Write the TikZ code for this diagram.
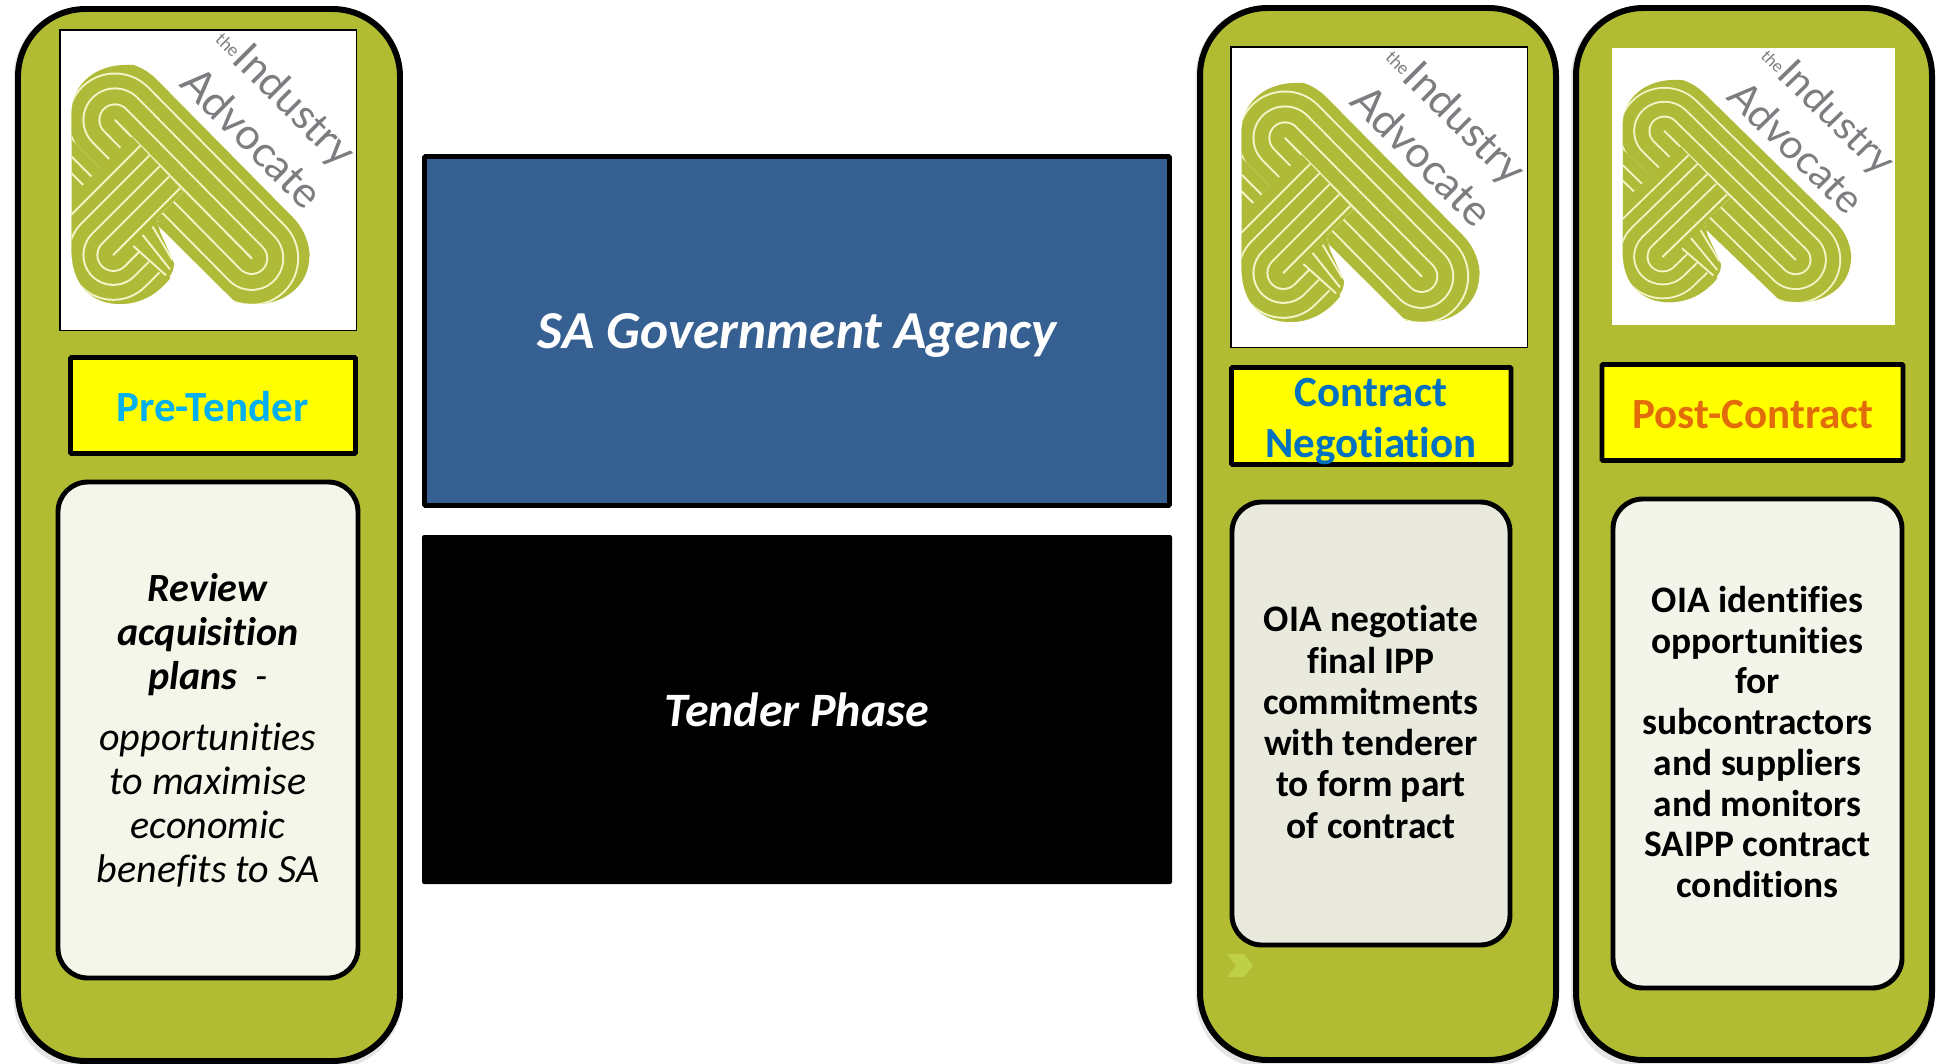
\documentclass[tikz,border=0pt]{standalone}
\usepackage{fontspec}
\setmainfont{Carlito}[Ligatures=NoCommon]
\newfontfamily\logofont{Lato}
\definecolor{olive}{HTML}{B2BC32}
\definecolor{logog}{HTML}{AFBB38}
\definecolor{logop}{HTML}{F3F5C8}
\definecolor{chev}{HTML}{BDD048}
\definecolor{creamA}{HTML}{F5F6EA}
\definecolor{creamB}{HTML}{E9E9DE}
\definecolor{creamC}{HTML}{F4F5EA}
\definecolor{agency}{HTML}{376092}
\definecolor{ctA}{HTML}{00B0F0}
\definecolor{ctB}{HTML}{0070C0}
\definecolor{ctC}{HTML}{E36C0A}
\definecolor{logotext}{HTML}{7C7D80}
\definecolor{pureyellow}{HTML}{FFFF00}
\tikzset{
  panel/.style={draw=black,line width=3.4pt,fill=olive,rounded corners=38.5pt},
  panelshade/.style={draw=black!10,line width=3.4pt,rounded corners=38.5pt},
  labelbox/.style={draw=black,line width=2.8pt,fill=pureyellow,rounded corners=0.6pt},
  textbox/.style={draw=black,line width=2.8pt,rounded corners=17pt},
  frame/.style={draw=black,line width=0.8pt,fill=white},
  bigbox/.style={line width=2.8pt,rounded corners=0.6pt},
  labeltext/.style={font=\fontsize{24.5}{29.4}\selectfont\bfseries,align=center,inner sep=0pt},
  bodytext/.style={align=center,inner sep=0pt,text=black},
  heading/.style={text=white,inner sep=0pt},
  logoword/.style={text=logotext,inner sep=0pt,rotate=-45,anchor=center},
  stripeline/.style={draw=logop,line width=1.1pt,line cap=butt},
}
\newcommand{\zband}[2]{% two ends of a concentric ribbon
  \foreach \r/\c in {#2}{
    \draw[line cap=round,draw=\c,line width=2*\r*0.18897pt] #1;
  }}
\newcommand{\logomark}{%
  \begin{scope}[x=0.0066667cm,y=-0.0066667cm]
    % part of the ribbon to the left of the crossing
    \fill[logog] (215,330) -- (215,590) -- (420,385) -- (300,300) -- cycle;
    \draw[stripeline] (215,400) -- (310,495);
    \draw[stripeline] (215,470) -- (275,530);
    \draw[stripeline] (215,520) -- (250,555);
    % main ribbon
    \begin{scope}
      \clip (215,340) .. controls (215,250) and (290,195) .. (375,195) -- (960,195) -- (960,760)
        -- (928,770) .. controls (928,850) and (860,912) .. (770,912) -- (708,908) -- (215,419) -- cycle;
      \zband{(345,360) -- (755,775)}{175/logog,143/logop,137/logog,98/logop,92/logog,50/logop,44/logog,3/logop}
    \end{scope}
    % crossing ribbon
    \begin{scope}
      \clip (215,590) -- (395,410) -- (550,575) -- (470,655) -- (510,835)
        .. controls (470,885) and (420,912) .. (360,912)
        .. controls (280,912) and (215,860) .. (215,750) -- cycle;
      \fill[logog] (200,400) rectangle (560,920);
      \zband{(340,765) -- (640,465)}{178/logop,172/logog,138/logop,132/logog,93/logop,87/logog,51/logop,45/logog,3/logop}
    \end{scope}
    % end of the strand at the foot
    \fill[logog] (400,738) -- (470,672) .. controls (490,720) and (510,760) .. (522,790)
      .. controls (522,810) and (515,825) .. (500,838) -- cycle;
    \draw[stripeline] (400,738) -- (498,826);
    \draw[stripeline] (428,705) -- (510,808);
    \draw[stripeline] (458,680) -- (517,780);
    \node[logoword,font=\logofont\fontsize{24}{25}\selectfont] (ind) at (880,320) {Industry};
    \node[logoword,font=\logofont\fontsize{24.5}{25}\selectfont] (adv) at (758,412) {Advocate};
    \node[logoword,font=\logofont\fontsize{10}{11}\selectfont] (the) at (684,135) {the};
  \end{scope}}
\begin{document}
\begin{tikzpicture}[x=0.02cm,y=-0.02cm]
\useasboundingbox (0,0) rectangle (1941,1064);
\fill[white] (0,0) rectangle (1941,1064);
% panel shadows
\draw[panelshade] (16.5,10) rectangle (399,1066);
\draw[panelshade] (1198.5,9) rectangle (1554,1065);
\draw[panelshade] (1574,9) rectangle (1931,1065);
% panels
\draw[panel] (18,9) rectangle (400,1061);
\draw[panel] (1200,8) rectangle (1556,1060);
\draw[panel] (1576,8) rectangle (1932,1060);
% logo frames
\draw[frame] (60,30) rectangle (356.5,330.5);
\draw[frame] (1231,47) rectangle (1527.5,347.5);
\fill[white] (1612,48) rectangle (1895,325);
\begin{scope}\logomark\end{scope}
\begin{scope}[transform canvas={shift={(1170,18)}}]\logomark\end{scope}
\begin{scope}[transform canvas={shift={(1554,19.5)},xscale=.96,yscale=.93}]\logomark\end{scope}
% yellow label boxes
\draw[labelbox] (70.5,357.5) rectangle (355.5,453.5);
\draw[labelbox] (1231.5,367.5) rectangle (1511,464.5);
\draw[labelbox] (1602,364.5) rectangle (1903,460.5);
\node[labeltext,text=ctA] (lpre) at (212.5,407) {Pre-Tender};
\node[labeltext,text=ctB] (lcon) at (1371,421.5) {Contract\\Negotiation};
\node[labeltext,text=ctC] (lpost) at (1753,415) {Post-Contract};
% text boxes
\draw[textbox,fill=creamA] (58,482) rectangle (358,978);
\draw[textbox,fill=creamB] (1232,502) rectangle (1510,945);
\draw[textbox,fill=creamC] (1613,499) rectangle (1902,988);
\node[bodytext,font=\fontsize{22.8}{25}\selectfont] (trev) at (208,730.5)
  {\textbf{\textit{Review}}\\\textbf{\textit{acquisition}}\\\textbf{\textit{plans}}\textit{\ \ -}\\[10pt]
   \textit{opportunities}\\\textit{to maximise}\\\textit{economic}\\\textit{benefits to SA}};
\node[bodytext,font=\fontsize{21.3}{23.5}\selectfont\bfseries] (tcon) at (1371,722)
  {OIA negotiate\\final IPP\\commitments\\with tenderer\\to form part\\of contract};
\node[bodytext,font=\fontsize{21.3}{23.2}\selectfont\bfseries] (tpost) at (1757.5,742)
  {OIA identifies\\opportunities\\for\\subcontractors\\and suppliers\\and monitors\\SAIPP contract\\conditions};
% centre boxes
\draw[bigbox,draw=black,fill=agency] (424.5,156.5) rectangle (1169.5,505.5);
\fill[black,rounded corners=1.2pt] (422,535) rectangle (1172,884);
\node[heading,font=\fontsize{30.4}{36}\selectfont\bfseries\itshape] (tagency) at (797,335) {SA Government Agency};
\node[heading,font=\fontsize{27.3}{32}\selectfont\bfseries\itshape] (ttender) at (797,710) {Tender Phase};
% small chevron
\fill[chev] (1227,954) -- (1244,954) -- (1253,965.5) -- (1244,977) -- (1227,977) -- (1236,965.5) -- cycle;
\end{tikzpicture}
\end{document}
